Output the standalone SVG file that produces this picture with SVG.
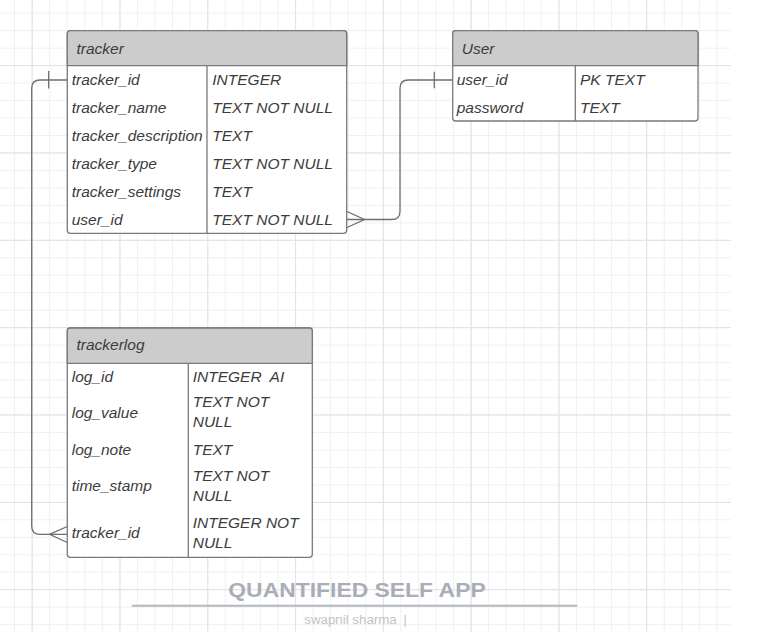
<svg xmlns="http://www.w3.org/2000/svg" width="769" height="632" viewBox="0 0 769 632">
  <defs>
    <pattern id="gridMinor" patternUnits="userSpaceOnUse" x="14" y="12.7" width="17.56" height="17.47">
      <path d="M0.5 0 V17.47 M0 0.5 H17.56" stroke="#f0f0f0" stroke-width="1" fill="none"/>
    </pattern>
    <pattern id="gridMajor" patternUnits="userSpaceOnUse" x="31.7" y="65.1" width="87.8" height="87.35">
      <path d="M0.5 0 V87.35 M0 0.5 H87.8" stroke="#e2e2e2" stroke-width="1" fill="none"/>
    </pattern>
    <style>
      .tbl { fill: #ffffff; stroke: #7a7a7a; stroke-width: 1.3; }
      .hdr { fill: #cccccc; stroke: #7a7a7a; stroke-width: 1.3; }
      .sep { stroke: #7a7a7a; stroke-width: 1.3; fill: none; }
      .t { font-family: "Liberation Sans", Arial, sans-serif; font-style: italic; font-size: 15.5px; fill: #3c3c3c; }
      .conn { stroke: #6e6e6e; stroke-width: 1.3; fill: none; }
      .title { font-family: "Liberation Sans", Arial, sans-serif; font-weight: bold; font-size: 21px; fill: #a9aeb6; }
      .sub { font-family: "Liberation Sans", Arial, sans-serif; font-size: 12.5px; fill: #bfc3c9; }
    </style>
  </defs>

  <rect x="0" y="0" width="769" height="632" fill="#ffffff"/>
  <rect x="0" y="0" width="731" height="632" fill="url(#gridMinor)"/>
  <rect x="0" y="0" width="731" height="632" fill="url(#gridMajor)"/>

  <g id="connectors">
    <path class="conn" d="M67.3 80 H40 Q31.7 80 31.7 88.3 V526 Q31.7 534.3 40 534.3 H67.3"/>
    <path class="conn" d="M48.7 71 V88.5"/>
    <path class="conn" d="M67.3 526.5 L49.5 534.3 L67.3 542.5"/>
    <path class="conn" d="M347 219.5 H391.7 Q400 219.5 400 211.2 V88.3 Q400 80 408.3 80 H452.7"/>
    <path class="conn" d="M434.3 71.7 V88.3"/>
    <path class="conn" d="M347 211.5 L364.5 219.5 L347 227.5"/>
  </g>

  <g id="tracker">
    <rect class="tbl" x="67.3" y="30.7" width="279.4" height="202.6" rx="3"/>
    <path class="hdr" d="M67.3 65.7 V33.7 Q67.3 30.7 70.3 30.7 H343.7 Q346.7 30.7 346.7 33.7 V65.7 Z"/>
    <path class="sep" d="M207 65.7 V233.3"/>
    <text class="t" x="76.5" y="53.5">tracker</text>
    <text class="t" x="71.7" y="85.2">tracker_id</text>
    <text class="t" x="71.7" y="113.1">tracker_name</text>
    <text class="t" x="71.7" y="141">tracker_description</text>
    <text class="t" x="71.7" y="168.9">tracker_type</text>
    <text class="t" x="71.7" y="196.9">tracker_settings</text>
    <text class="t" x="71.7" y="224.8">user_id</text>
    <text class="t" x="212.3" y="85.2">INTEGER</text>
    <text class="t" x="212.3" y="113.1">TEXT NOT NULL</text>
    <text class="t" x="212.3" y="141">TEXT</text>
    <text class="t" x="212.3" y="168.9">TEXT NOT NULL</text>
    <text class="t" x="212.3" y="196.9">TEXT</text>
    <text class="t" x="212.3" y="224.8">TEXT NOT NULL</text>
  </g>

  <g id="user">
    <rect class="tbl" x="452.7" y="30.7" width="245.3" height="90.3" rx="3"/>
    <path class="hdr" d="M452.7 65.7 V33.7 Q452.7 30.7 455.7 30.7 H695 Q698 30.7 698 33.7 V65.7 Z"/>
    <path class="sep" d="M575.3 65.7 V121"/>
    <text class="t" x="461.7" y="53.5">User</text>
    <text class="t" x="456.7" y="85">user_id</text>
    <text class="t" x="456.7" y="112.8">password</text>
    <text class="t" x="580" y="85">PK TEXT</text>
    <text class="t" x="580" y="112.8">TEXT</text>
  </g>

  <g id="trackerlog">
    <rect class="tbl" x="67.3" y="328" width="245" height="229.3" rx="3"/>
    <path class="hdr" d="M67.3 363.3 V331 Q67.3 328 70.3 328 H309.3 Q312.3 328 312.3 331 V363.3 Z"/>
    <path class="sep" d="M188.3 363.3 V557.3"/>
    <text class="t" x="76.5" y="349.8">trackerlog</text>
    <text class="t" x="71.7" y="381.5">log_id</text>
    <text class="t" x="71.7" y="417.8">log_value</text>
    <text class="t" x="71.7" y="454.5">log_note</text>
    <text class="t" x="71.7" y="491.2">time_stamp</text>
    <text class="t" x="71.7" y="538">tracker_id</text>
    <text class="t" x="192.7" y="381.5" xml:space="preserve">INTEGER  AI</text>
    <text class="t" x="192.7" y="407.2">TEXT NOT</text>
    <text class="t" x="192.7" y="427.2">NULL</text>
    <text class="t" x="192.7" y="454.5">TEXT</text>
    <text class="t" x="192.7" y="481.2">TEXT NOT</text>
    <text class="t" x="192.7" y="501.2">NULL</text>
    <text class="t" x="192.7" y="527.8">INTEGER NOT</text>
    <text class="t" x="192.7" y="547.8">NULL</text>
  </g>

  <g id="title">
    <text class="title" x="228.3" y="596.7" textLength="257.4" lengthAdjust="spacingAndGlyphs">QUANTIFIED SELF APP</text>
    <path d="M131.7 605.7 H577.3" stroke="#b3b8c0" stroke-width="2" fill="none"/>
    <text class="sub" x="304.3" y="624"><tspan textLength="92.4" lengthAdjust="spacingAndGlyphs">swapnil sharma</tspan><tspan x="403.5">|</tspan></text>
  </g>
</svg>
